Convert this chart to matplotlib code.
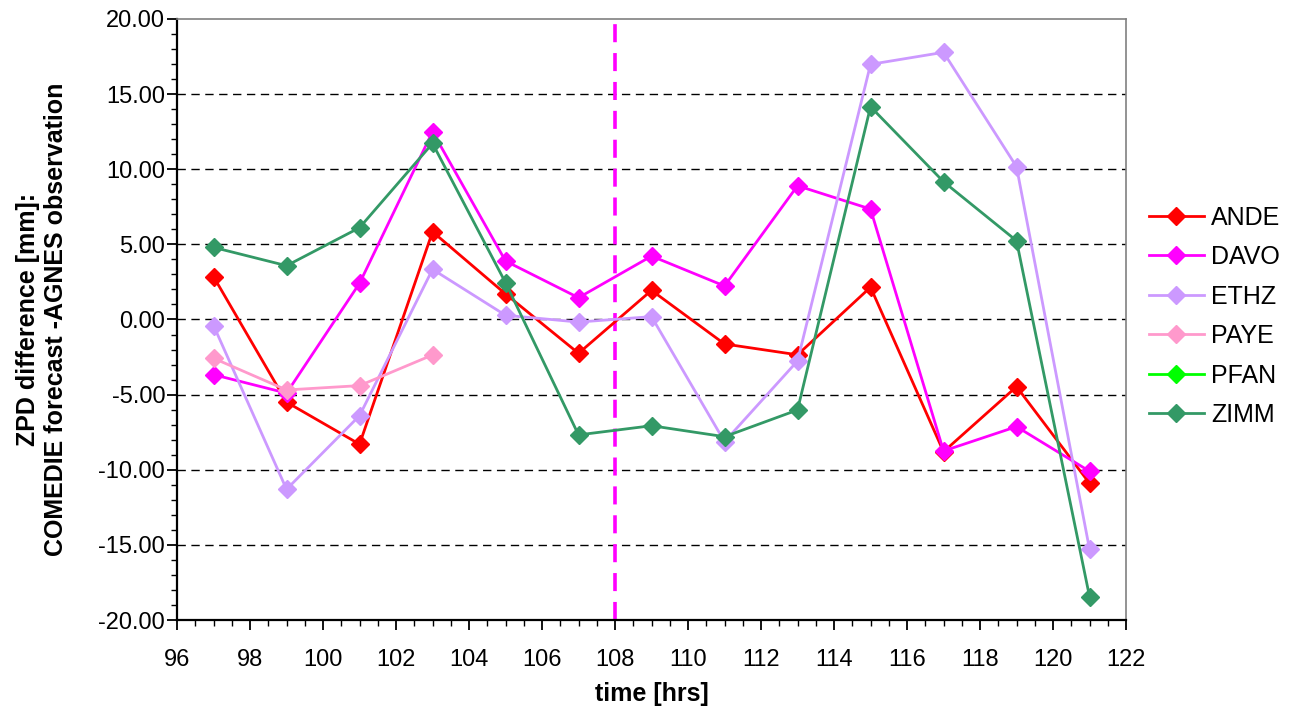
import numpy as np
import matplotlib
matplotlib.use("Agg")
import matplotlib.pyplot as plt
from matplotlib.ticker import MultipleLocator, FormatStrFormatter

plt.rcParams['font.family'] = ['Liberation Sans', 'DejaVu Sans']

hours = [97, 99, 101, 103, 105, 107, 109, 111, 113, 115, 117, 119, 121]

ande = [2.85, -5.5, -8.3, 5.84, 1.7, -2.25, 1.94, -1.63, -2.35, 2.15, -8.8, -4.47, -10.9]
davo = [-3.67, -4.9, 2.41, 12.5, 3.89, 1.45, 4.22, 2.23, 8.9, 7.35, -8.75, -7.13, -10.1]
ethz = [-0.4, -11.3, -6.4, 3.34, 0.28, -0.17, 0.19, -8.13, -2.76, 16.98, 17.78, 10.17, -15.29]
paye = [-2.58, -4.69, -4.4, -2.36, np.nan, np.nan, np.nan, np.nan, np.nan, np.nan, np.nan, np.nan, np.nan]
pfan = [np.nan] * len(hours)
zimm = [4.8, 3.58, 6.11, 11.72, 2.45, -7.68, -7.07, -7.8, -6.02, 14.16, 9.17, 5.24, -18.44]

stations = ["ANDE", "DAVO", "ETHZ", "PAYE", "PFAN", "ZIMM"]
series = [ande, davo, ethz, paye, pfan, zimm]
colors = ["#FF0000", "#FF00FF", "#CC99FF", "#FF99CC", "#00FF00", "#339966"]

forecast_start = 108

fig = plt.figure(figsize=(12.98, 7.13), dpi=100)
ax = fig.add_axes([0.1364, 0.1304, 0.8675 - 0.1364, 0.9734 - 0.1304])

ax.set_xlim(96, 122)
ax.set_ylim(-20, 20)

# horizontal dashed grid at major y ticks
for yv in np.arange(-15, 20, 5):
    ax.axhline(yv, color="black", lw=1.0, ls=(0, (6, 4)), zorder=1)

ax.axvline(forecast_start, color="#FF00FF", lw=2.6, ls=(0, (5, 3)), zorder=2)

for name, vals, col in zip(stations, series, colors):
    ax.plot(hours, vals, color=col, lw=2.0, marker="D", markersize=9.5,
            markeredgecolor=col, label=name, zorder=3)

ax.xaxis.set_major_locator(MultipleLocator(2))
ax.xaxis.set_minor_locator(MultipleLocator(0.5))
ax.yaxis.set_major_locator(MultipleLocator(5))
ax.yaxis.set_minor_locator(MultipleLocator(1))
ax.yaxis.set_major_formatter(FormatStrFormatter("%.2f"))

ax.tick_params(axis="both", which="major", direction="out", length=7, width=1.3,
               labelsize=17, pad=1.5)
ax.tick_params(axis="both", which="minor", direction="out", length=4, width=1.0)
ax.tick_params(axis="x", pad=14)

for side in ("left", "bottom"):
    ax.spines[side].set_color("black")
    ax.spines[side].set_linewidth(1.6)
for side in ("top", "right"):
    ax.spines[side].set_color("#808080")
    ax.spines[side].set_linewidth(1.2)

ax.set_xlabel("time [hrs]", fontsize=18, fontweight="bold", labelpad=8)
ax.set_ylabel("ZPD difference [mm]:\nCOMEDIE forecast -AGNES observation",
              fontsize=18, fontweight="bold", labelpad=22)

leg = ax.legend(loc="center left", bbox_to_anchor=(1.0, 0.505), frameon=False,
                fontsize=18, handlelength=2.2, labelspacing=0.62, handletextpad=0.3)

fig.savefig("out.png", dpi=100)
